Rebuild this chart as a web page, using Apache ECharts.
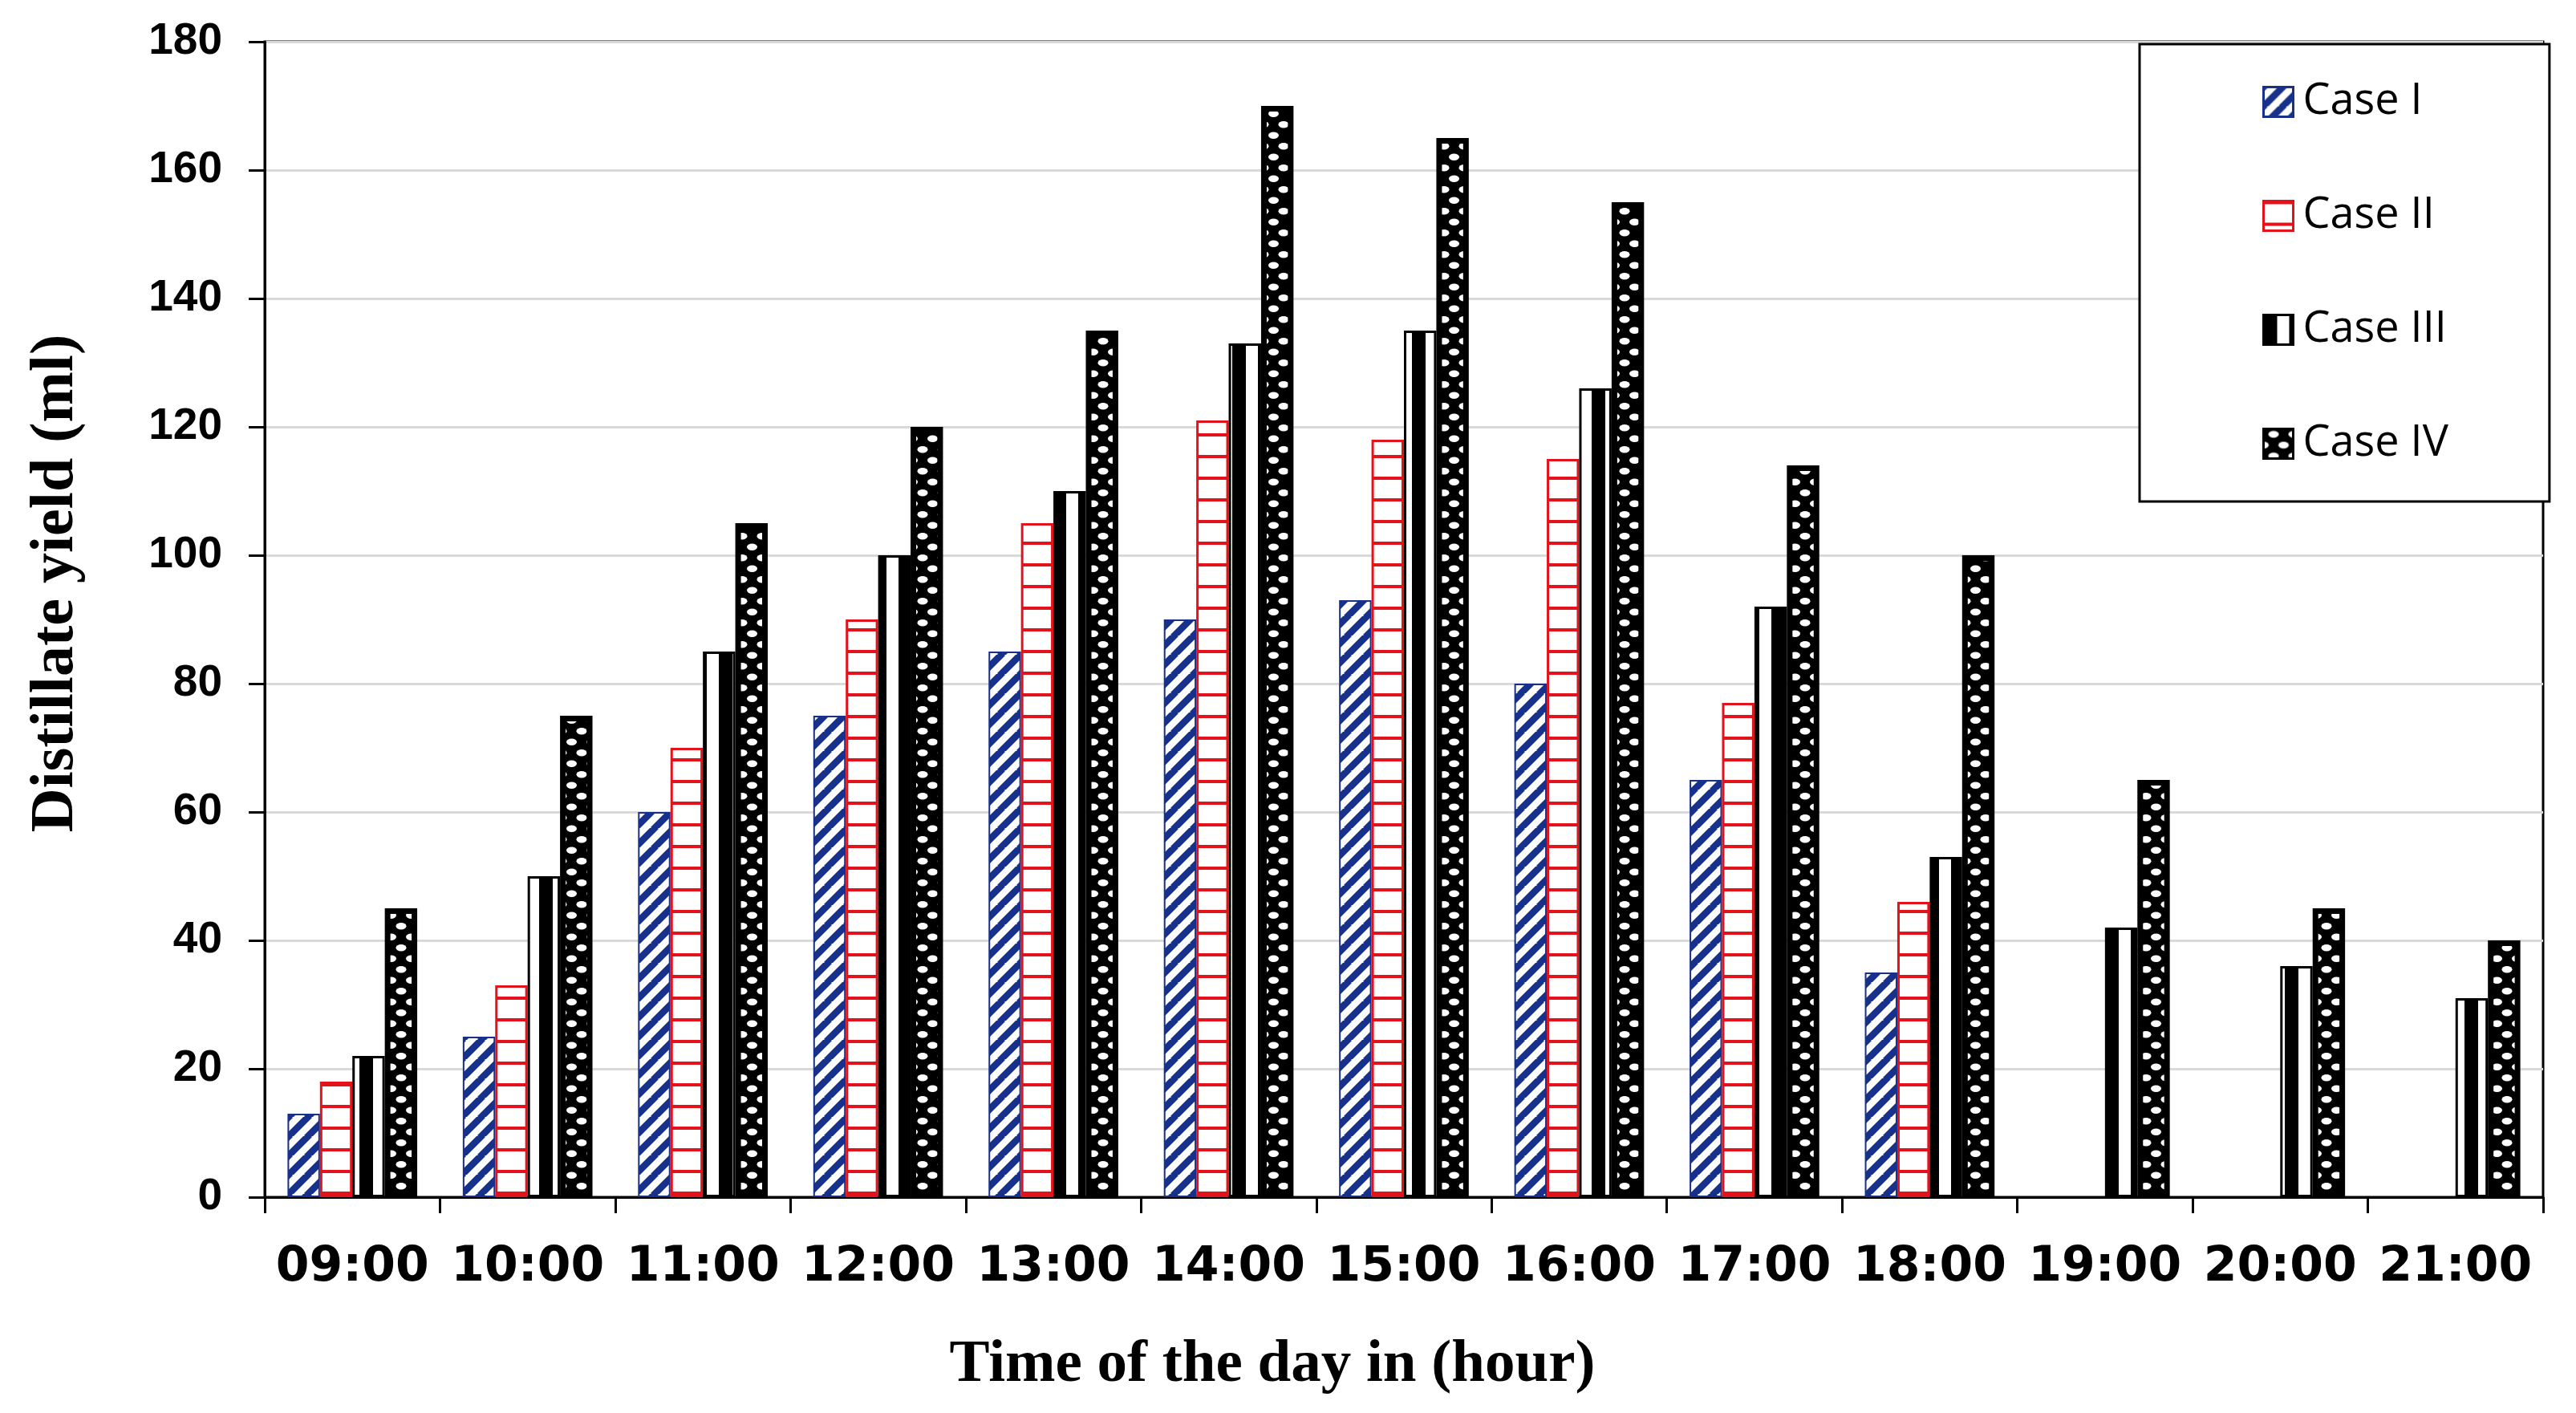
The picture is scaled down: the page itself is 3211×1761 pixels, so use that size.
<!DOCTYPE html>
<html>
<head>
<meta charset="utf-8">
<script src="https://cdn.jsdelivr.net/npm/echarts@6/dist/echarts.min.js"></script>
<style>
html,body{margin:0;padding:0;background:#fff;}
#chart{width:3211px;height:1761px;}
</style>
</head>
<body>
<div id="chart"></div>
<script>
const categories = ['09:00','10:00','11:00','12:00','13:00','14:00','15:00','16:00','17:00','18:00','19:00','20:00','21:00'];
const caseI   = [13, 25, 60, 75, 85, 90, 93, 80, 65, 35, null, null, null];
const caseII  = [18, 33, 70, 90, 105, 121, 118, 115, 77, 46, null, null, null];
const caseIII = [22, 50, 85, 100, 110, 133, 135, 126, 92, 53, 42, 36, 31];
const caseIV  = [45, 75, 105, 120, 135, 170, 165, 155, 114, 100, 65, 45, 40];
const seriesNames = ['Case I', 'Case II', 'Case III', 'Case IV'];
const yTicks = {min: 0, max: 180, interval: 20};

function makeCanvas(w, h, draw) {
  const c = document.createElement('canvas');
  c.width = w; c.height = h;
  draw(c.getContext('2d'), w, h);
  return c;
}
const NAVY = '#17308a', RED = '#e3121b';
const patI = makeCanvas(24, 24, (ctx, w, h) => {
  ctx.fillStyle = '#fff'; ctx.fillRect(0, 0, w, h);
  ctx.strokeStyle = NAVY; ctx.lineWidth = 8.5;
  for (const k of [-w, 0, w]) { ctx.beginPath(); ctx.moveTo(k - 2, h + 2); ctx.lineTo(k + w + 2, -2); ctx.stroke(); }
});
const patII = makeCanvas(10, 27, (ctx, w, h) => {
  ctx.fillStyle = '#fff'; ctx.fillRect(0, 0, w, h);
  ctx.fillStyle = RED; ctx.fillRect(0, 0, w, 4);
});
const patIII = makeCanvas(32, 4, (ctx, w, h) => {
  ctx.fillStyle = '#fff'; ctx.fillRect(0, 0, w, h);
  ctx.fillStyle = '#000'; ctx.fillRect(0, 0, 17, h);
});
const patIV = makeCanvas(25, 27, (ctx, w, h) => {
  ctx.fillStyle = '#000'; ctx.fillRect(0, 0, w, h);
  ctx.fillStyle = '#fff';
  const dots = [[12.5, 6.75], [0, 20.25], [25, 20.25]];
  for (const [x, y] of dots) { ctx.beginPath(); ctx.ellipse(x, y, 6.5, 4.2, 0, 0, Math.PI * 2); ctx.fill(); }
});

const styles = [
  {color: {image: patI, repeat: 'repeat'}, borderColor: NAVY, borderWidth: 2},
  {color: {image: patII, repeat: 'repeat'}, borderColor: RED, borderWidth: 3},
  {color: {image: patIII, repeat: 'repeat'}, borderColor: '#000', borderWidth: 3},
  {color: {image: patIV, repeat: 'repeat'}, borderColor: '#000', borderWidth: 7}
];
const dataSets = [caseI, caseII, caseIII, caseIV];

const chart = echarts.init(document.getElementById('chart'), null, {renderer: 'canvas'});
chart.setOption({
  animation: false,
  backgroundColor: '#fff',
  grid: {
    left: 330, right: 41, top: 52, bottom: 269,
    show: true, borderColor: '#000', borderWidth: 3, backgroundColor: 'transparent',
    outerBoundsMode: 'none'
  },
  legend: {
    orient: 'vertical', left: 2667, top: 55,
    padding: [44, 126, 44, 153],
    backgroundColor: '#fff', borderColor: '#000', borderWidth: 3,
    itemWidth: 37, itemHeight: 37, itemGap: 86,
    icon: 'rect', selectedMode: false, align: 'left',
    itemStyle: {borderWidth: 3},
    textStyle: {fontFamily: 'Open Sans', fontSize: 54, color: '#000', lineHeight: 56, padding: [0, 0, 0, 7]},
    data: seriesNames
  },
  xAxis: {
    type: 'category', data: categories,
    name: 'Time of the day in (hour)', nameLocation: 'middle', nameGap: 172, nameMoveOverlap: false,
    nameTextStyle: {fontFamily: 'Liberation Serif', fontWeight: 'bold', fontSize: 75, color: '#000', padding: [0, 328, 0, 0]},
    axisLine: {lineStyle: {color: '#000', width: 3}},
    axisTick: {show: true, length: 20, lineStyle: {color: '#000', width: 3}, alignWithLabel: false},
    axisLabel: {interval: 0, margin: 58, fontFamily: 'DejaVu Sans', fontWeight: 'bold', fontSize: 60, color: '#000'},
    splitLine: {show: false}
  },
  yAxis: {
    type: 'value', min: yTicks.min, max: yTicks.max, interval: yTicks.interval,
    name: 'Distillate yield (ml)', nameLocation: 'middle', nameGap: 222, nameMoveOverlap: false,
    nameTextStyle: {fontFamily: 'Liberation Serif', fontWeight: 'bold', fontSize: 76, color: '#000', padding: [0, 0, 0, 90]},
    axisLine: {show: true, lineStyle: {color: '#000', width: 3}},
    axisTick: {show: true, length: 20, lineStyle: {color: '#000', width: 3}},
    axisLabel: {margin: 53, fontFamily: 'Liberation Sans', fontWeight: 'bold', fontSize: 55, color: '#000'},
    splitLine: {show: true, lineStyle: {color: '#d9d9d9', width: 3}}
  },
  series: seriesNames.map((n, i) => ({
    name: n, type: 'bar', data: dataSets[i],
    barGap: '0%', barCategoryGap: '26%',
    itemStyle: styles[i],
    emphasis: {disabled: true}
  }))
});
</script>
</body>
</html>
